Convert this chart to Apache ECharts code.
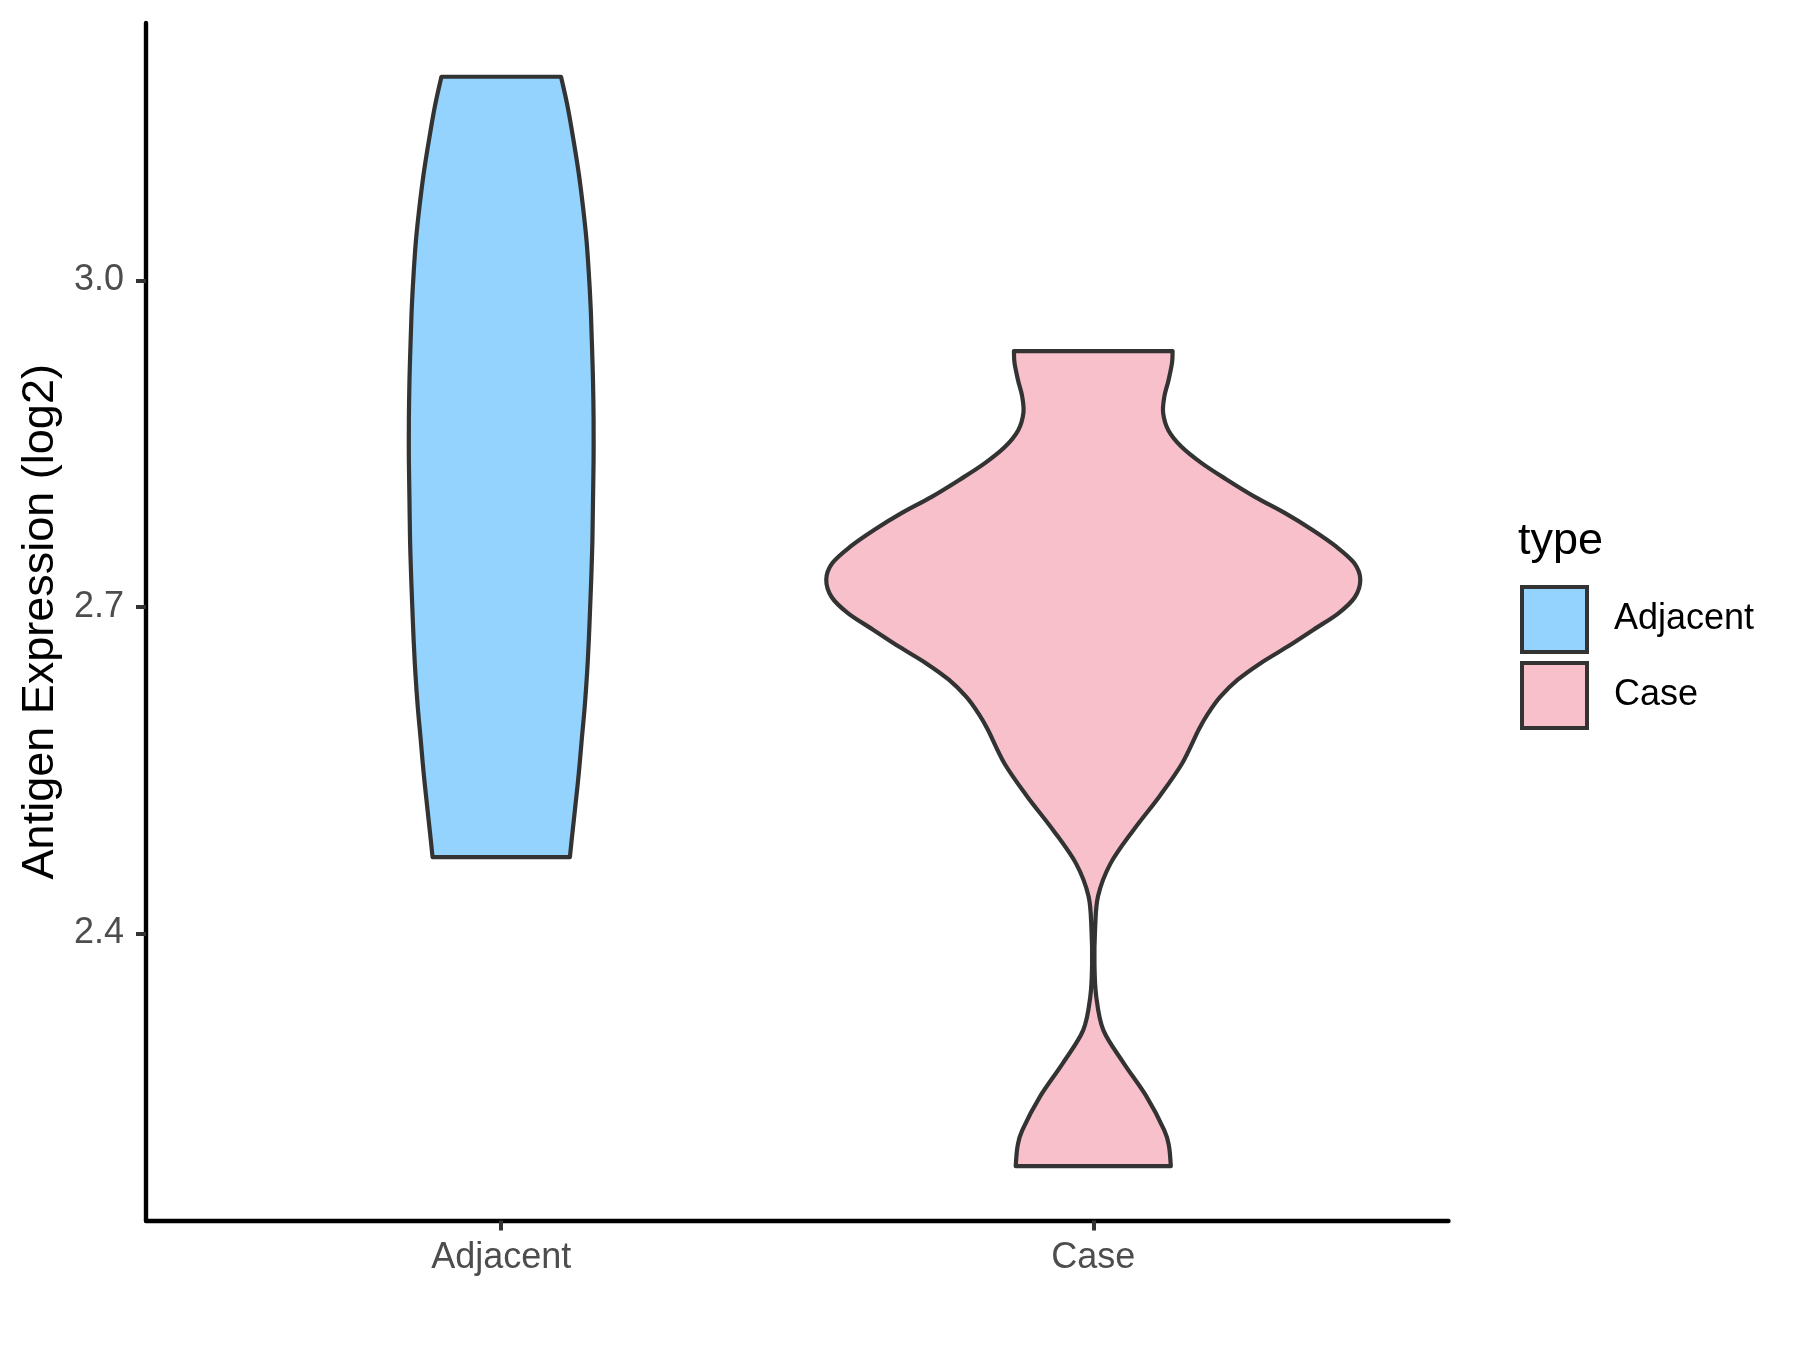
<!DOCTYPE html>
<html>
<head>
<meta charset="utf-8">
<script src="https://cdn.jsdelivr.net/npm/echarts@6/dist/echarts.min.js"></script>
<style>
  html, body { margin: 0; padding: 0; background: #fff; }
  #chart { width: 1800px; height: 1350px; }
</style>
</head>
<body>
<div id="chart"></div>
<script>
// ---- data ----
const categories = ['Adjacent', 'Case'];
const yTicks = [2.4, 2.7, 3.0];
const fillColors = ['#93D3FE', '#F8C0CB'];

// Adjacent violin: expression value (top -> bottom) and half-width (x units)
const adjacentY = [3.187, 3.160, 3.129, 3.098, 3.068, 3.037, 3.006, 2.976, 2.945, 2.908, 2.872, 2.835,
  2.798, 2.761, 2.725, 2.697, 2.670, 2.639, 2.608, 2.578, 2.547, 2.516, 2.486, 2.470];
const adjacentHalfWidth = [0.101, 0.112, 0.122, 0.131, 0.138, 0.144, 0.148, 0.151, 0.153, 0.155, 0.156, 0.156,
  0.155, 0.154, 0.152, 0.150, 0.148, 0.145, 0.141, 0.136, 0.131, 0.125, 0.119, 0.116];

// Case violin
const caseY = [2.935, 2.924, 2.908, 2.893, 2.878, 2.862, 2.847, 2.832, 2.817, 2.801, 2.786, 2.771, 2.755,
  2.740, 2.725, 2.709, 2.694, 2.679, 2.663, 2.648, 2.633, 2.617, 2.602, 2.587, 2.556, 2.526, 2.495, 2.464,
  2.434, 2.403, 2.372, 2.342, 2.311, 2.281, 2.250, 2.219, 2.204, 2.186];
const caseHalfWidth = [0.134, 0.133, 0.127, 0.120, 0.118, 0.127, 0.149, 0.183, 0.225, 0.273, 0.324, 0.369, 0.411,
  0.441, 0.451, 0.442, 0.414, 0.372, 0.327, 0.282, 0.244, 0.214, 0.194, 0.178, 0.150, 0.112, 0.068, 0.029,
  0.008, 0.003, 0.002, 0.005, 0.017, 0.051, 0.090, 0.120, 0.128, 0.131];

const violins = [
  { name: categories[0], pos: 1, ys: adjacentY, hw: adjacentHalfWidth, color: fillColors[0] },
  { name: categories[1], pos: 2, ys: caseY, hw: caseHalfWidth, color: fillColors[1] }
];

// ---- rendering helpers ----
function catmull(p) {
  let s = '';
  for (let i = 0; i < p.length - 1; i++) {
    const p0 = p[i - 1] || p[i], p1 = p[i], p2 = p[i + 1], p3 = p[i + 2] || p[i + 1];
    const c1 = [p1[0] + (p2[0] - p0[0]) / 6, p1[1] + (p2[1] - p0[1]) / 6];
    const c2 = [p2[0] - (p3[0] - p1[0]) / 6, p2[1] - (p3[1] - p1[1]) / 6];
    s += ' C' + c1[0] + ' ' + c1[1] + ' ' + c2[0] + ' ' + c2[1] + ' ' + p2[0] + ' ' + p2[1];
  }
  return s;
}

function makeRender(v) {
  return function (params, api) {
    const right = v.ys.map((y, i) => api.coord([v.pos + v.hw[i], y]));
    const left = v.ys.map((y, i) => api.coord([v.pos - v.hw[i], y])).reverse();
    let d = 'M' + right[0][0] + ' ' + right[0][1] + catmull(right);
    d += ' L' + left[0][0] + ' ' + left[0][1] + catmull(left) + ' Z';
    return {
      type: 'path',
      shape: { pathData: d },
      style: { fill: v.color, stroke: '#333333', lineWidth: 4.2, lineJoin: 'round' }
    };
  };
}

const FONT = 'Liberation Sans, Arial, sans-serif';
const chart = echarts.init(document.getElementById('chart'), null, { renderer: 'canvas' });

chart.setOption({
  animation: false,
  backgroundColor: '#ffffff',
  grid: { left: 146, top: 23, right: 351.5, bottom: 129.5, containLabel: false },
  xAxis: {
    type: 'value', min: 0.4, max: 2.6,
    splitLine: { show: false },
    axisLine: { show: true, lineStyle: { color: '#000', width: 4.4 } },
    axisTick: { show: true, customValues: [1, 2], length: 10, lineStyle: { color: '#333', width: 4 } },
    axisLabel: {
      customValues: [1, 2], margin: 20,
      formatter: v => categories[Math.round(v) - 1] || '',
      fontSize: 36, color: '#4D4D4D', fontFamily: FONT
    }
  },
  yAxis: {
    type: 'value', min: 2.1361, max: 3.2364,
    name: 'Antigen Expression (log2)', nameLocation: 'middle', nameGap: 78,
    nameTextStyle: { fontSize: 45, color: '#000', fontFamily: FONT },
    splitLine: { show: false },
    axisLine: { show: true, lineStyle: { color: '#000', width: 4.4 } },
    axisTick: { show: true, customValues: yTicks, length: 10, lineStyle: { color: '#333', width: 4 } },
    axisLabel: {
      customValues: yTicks, margin: 22,
      formatter: v => Number(v).toFixed(1),
      fontSize: 36, color: '#4D4D4D', fontFamily: FONT
    }
  },
  legend: {
    orient: 'vertical', left: 1515, top: 580, padding: 5,
    icon: 'rect', itemWidth: 65, itemHeight: 65, itemGap: 7,
    itemStyle: { borderColor: '#333333', borderWidth: 4 },
    textStyle: { fontSize: 36, color: '#000', fontFamily: FONT, padding: [0, 0, 0, 22] },
    data: categories
  },
  graphic: [{
    type: 'text', left: 1518, top: 519,
    style: { text: 'type', fontSize: 45, fill: '#000', fontFamily: FONT }
  }],
  series: violins.map(v => ({
    type: 'custom', name: v.name,
    itemStyle: { color: v.color, borderColor: '#333333', borderWidth: 4 },
    renderItem: makeRender(v),
    data: [[v.pos, v.ys[0]]]
  }))
});
</script>
</body>
</html>
